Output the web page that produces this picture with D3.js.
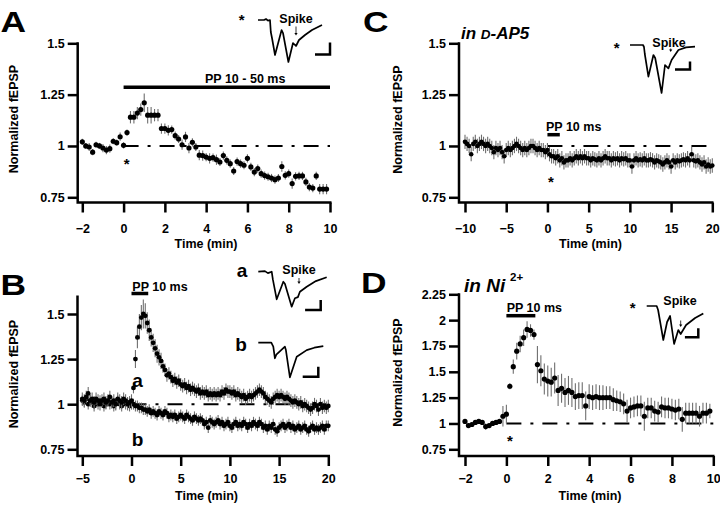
<!DOCTYPE html>
<html><head><meta charset="utf-8">
<script src="https://cdn.jsdelivr.net/npm/d3@7"></script>
<style>
body{margin:0;background:#fff}
svg{display:block}
text{font-family:"Liberation Sans",Arial,Helvetica,sans-serif;font-weight:bold;fill:#000}
</style>
</head><body>
<svg id="c" width="720" height="506"></svg>
<script>
// ---------------- DATA ----------------
const yTicksStd = [0.75, 1, 1.25, 1.5];
const yTickLabelsStd = ["0.75", "1", "1.25", "1.5"];
const yTicksD = [0.75, 1, 1.25, 1.5, 1.75, 2, 2.25];
const yTickLabelsD = ["0.75", "1", "1.25", "1.5", "1.75", "2", "2.25"];
const xTicksA = [-2, 0, 2, 4, 6, 8, 10];
const xTicksB = [-5, 0, 5, 10, 15, 20];
const xTicksC = [-10, -5, 0, 5, 10, 15, 20];
const xTicksD = [-2, 0, 2, 4, 6, 8, 10];

// Panel A: sampled every 10 s from -2 min
const startA = -2, stepA = 1 / 6;
const valuesA = [1.02,1.00,0.995,0.97,1.006,1.00,0.99,0.98,0.987,1.023,1.016,1.045,1.003,
 1.065,1.14,1.14,1.16,1.177,1.21,1.15,1.15,1.15,1.15,1.085,1.085,1.076,1.08,1.05,1.034,1.006,1.044,0.99,1.018,
 0.995,0.955,0.953,0.946,0.94,0.943,0.933,0.922,0.953,0.93,0.914,0.878,0.924,0.914,0.906,0.94,0.898,0.873,0.89,0.865,
 0.856,0.85,0.844,0.836,0.844,0.9,0.857,0.865,0.817,0.852,0.854,0.854,0.825,0.8,0.795,0.854,0.79,0.79,0.79];
const errorsA = [0.015,0.015,0.02,0.015,0.015,0.015,0.02,0.02,0.02,0.015,0.015,0.02,0.015,
 0.015,0.03,0.03,0.03,0.03,0.045,0.04,0.04,0.03,0.03,0.025,0.025,0.025,0.02,0.02,0.02,0.025,0.025,0.025,0.02,
 0.02,0.025,0.025,0.02,0.025,0.02,0.025,0.02,0.02,0.02,0.02,0.02,0.02,0.02,0.02,0.02,0.02,0.02,0.02,0.02,
 0.02,0.02,0.02,0.02,0.02,0.025,0.02,0.02,0.025,0.02,0.02,0.02,0.02,0.02,0.02,0.02,0.025,0.025,0.025];

// Panel B: sampled every 0.2 min from -5 min
const startB = -5, stepB = 0.2;
const valuesBa = [1.03,1.02,1.04,1.06,1.02,1.03,1.01,1.03,1.02,1.00,1.02,1.03,1.01,1.02,1.04,1.01,1.02,1.00,1.03,1.02,1.01,1.03,1.02,1.00,1.01,1.02,
 1.09,1.25,1.37,1.43,1.48,1.50,1.49,1.45,1.41,1.37,
 1.34,1.31,1.28,1.26,1.24,1.21,1.19,1.16,1.17,1.15,
 1.13,1.14,1.12,1.13,1.11,
 1.10,1.11,1.09,1.10,1.08,1.09,1.08,1.07,1.08,1.06,
 1.07,1.06,1.07,1.05,1.06,1.05,1.06,1.05,1.06,1.05,
 1.07,1.06,1.08,1.07,1.07,1.06,1.07,1.05,1.06,1.05,
 1.04,1.05,1.03,1.04,1.05,1.04,1.05,1.06,1.07,1.08,
 1.07,1.06,1.04,1.03,1.02,1.01,1.03,1.04,1.05,1.04,
 1.05,1.04,1.03,1.04,1.03,1.02,1.01,1.02,1.01,1.00,
 1.01,0.99,1.00,0.99,0.98,0.97,0.98,1.00,0.99,0.97,
 1.00,0.98,0.99,0.98,0.99];
const valuesBb = [1.02,1.01,1.03,1.00,1.02,1.01,0.99,1.01,1.00,1.02,1.01,0.99,1.00,1.02,1.00,1.01,0.99,1.00,1.02,1.00,0.99,1.01,1.00,1.01,0.99,1.00,
 1.00,0.99,0.99,0.98,0.98,0.97,0.97,0.96,0.97,0.95,
 0.96,0.95,0.94,0.96,0.95,0.94,0.96,0.95,0.93,0.94,
 0.93,0.94,0.92,0.93,0.94,
 0.93,0.92,0.94,0.93,0.92,0.91,0.93,0.92,0.91,0.92,
 0.91,0.89,0.90,0.87,0.91,0.90,0.89,0.90,0.91,0.89,
 0.90,0.88,0.89,0.90,0.88,0.87,0.89,0.90,0.88,0.89,
 0.88,0.90,0.89,0.87,0.89,0.88,0.90,0.89,0.88,0.90,
 0.89,0.87,0.88,0.86,0.88,0.87,0.89,0.86,0.85,0.87,
 0.88,0.89,0.87,0.88,0.89,0.87,0.88,0.86,0.87,0.88,
 0.86,0.87,0.88,0.86,0.85,0.87,0.88,0.86,0.87,0.86,
 0.87,0.88,0.86,0.88,0.88];
const errorBa = 0.035;
const errorBaPeak = [0.03,0.05,0.06,0.07,0.07,0.08,0.07,0.06,0.06,0.05,0.05,0.05,0.05,0.045,0.045]; // from t=0.2 min
const errorBb = 0.03;

// Panel C: sampled every 0.25 min from -10 min
const startC = -10, stepC = 0.25;
const valuesC = [1.02,1.01,1.00,0.96,1.01,1.02,1.00,1.01,1.02,1.01,
 1.00,1.01,1.00,0.99,0.97,0.99,0.98,0.99,0.97,0.95,
 0.98,0.99,0.98,0.99,1.00,1.01,1.00,0.99,0.98,0.99,
 0.98,0.99,1.00,1.00,0.99,0.98,0.99,0.98,0.98,0.97,
 0.98,0.96,0.95,0.95,0.94,0.95,0.93,0.94,0.92,0.93,
 0.93,0.94,0.93,0.94,0.95,0.94,0.95,0.94,0.95,0.94,
 0.94,0.93,0.94,0.935,0.93,0.94,0.93,0.94,0.95,0.94,
 0.94,0.93,0.94,0.935,0.94,0.93,0.94,0.935,0.94,0.93,
 0.93,0.90,0.93,0.94,0.93,0.935,0.93,0.94,0.93,0.93,
 0.935,0.93,0.92,0.93,0.925,0.92,0.91,0.92,0.93,0.92,
 0.90,0.93,0.92,0.93,0.925,0.93,0.935,0.93,0.94,0.93,
 0.96,0.93,0.925,0.93,0.92,0.91,0.92,0.90,0.91,0.90,
 0.905];
const errorC = 0.035;

// Panel D: sampled every 10 s from -2 min
const startD = -2, stepD = 1 / 6;
const valuesD = [1.02,0.98,0.99,1.01,1.02,1.01,0.97,0.98,1.00,1.01,1.02,1.07,1.09,
 1.36,1.55,1.70,1.77,1.83,1.91,1.90,1.86,1.57,1.51,
 1.43,1.41,1.40,1.44,1.32,1.34,1.30,1.32,1.30,1.26,
 1.27,1.27,1.17,1.26,1.25,1.26,1.25,1.25,1.25,1.25,
 1.23,1.22,1.21,1.19,1.12,1.15,1.16,1.17,1.17,1.07,
 1.15,1.15,1.12,1.11,1.16,1.15,1.15,1.14,1.13,1.14,
 1.04,1.10,1.10,1.10,1.10,1.07,1.10,1.10,1.12];
const errorsD = [0.02,0.02,0.02,0.02,0.02,0.02,0.03,0.02,0.02,0.02,0.02,0.1,0.09,
 0.03,0.07,0.08,0.08,0.08,0.08,0.06,0.05,0.18,0.15,
 0.15,0.15,0.14,0.15,0.15,0.14,0.14,0.14,0.14,0.13,
 0.13,0.13,0.14,0.12,0.12,0.12,0.12,0.12,0.11,0.11,
 0.11,0.1,0.1,0.1,0.11,0.1,0.1,0.1,0.1,0.14,
 0.1,0.1,0.1,0.1,0.1,0.1,0.1,0.1,0.1,0.1,
 0.12,0.1,0.1,0.1,0.1,0.1,0.1,0.1,0.07];

// Pairing periods (min)
const ppA = [0, 10], ppB = [0, 1.7], ppC = [0, 1.5], ppD = [0, 1.4];
const ppTextA = "PP 10 - 50 ms", ppTextOther = "PP 10 ms";

// Inset fEPSP traces [time units, voltage units]
const traceA = [[0,0],[3,0],[4,0.05],[5,-0.03],[6,0],[6.4,-0.6],[7,-0.9],[8.5,-1.75],[11.8,-0.5],[12.5,-0.65],[15.2,-2.1],[17.5,-1.15],[19,-1.3],[20.5,-1.0],[23.5,-0.75],[27,-0.5],[32,-0.25]];
const traceC = [[0,0],[6.5,0],[7,-0.1],[7.4,-0.45],[9.2,-1.58],[11.7,-0.5],[12.6,-0.65],[15.8,-2.4],[17.5,-1.0],[19.2,-1.17],[20.8,-0.75],[24.2,-0.25],[28,-0.12],[32.5,-0.08]];
const traceBa = [[0,0],[3.3,0.03],[4.8,-0.07],[6.7,0],[7.3,-0.4],[9.2,-1.38],[12.5,-0.5],[13.3,-0.6],[16.7,-1.75],[18.3,-1.33],[19.8,-1.27],[20.8,-1.0],[24.2,-0.75],[28.8,-0.47],[34.2,-0.28]];
const traceBb = [[0,0],[6.5,0],[7.5,-0.2],[8.3,-0.78],[9,-0.6],[13.3,-0.2],[13.8,-0.37],[15.8,-1.73],[19.2,-0.7],[24.2,-0.37],[28,-0.25],[32.5,-0.17]];
const traceD = [[0,0],[5,0],[5.7,-0.2],[8.3,-1.7],[10.2,-0.8],[11.7,-0.5],[13.7,-1.9],[15.8,-1.2],[17,-1.4],[19.7,-0.95],[24.2,-0.6],[28.3,-0.37]];
// scale bars [time units, voltage units]
const barA = [7.5, 0.6], barC = [7.5, 0.4], barBa = [7.8, 0.5], barBb = [7.8, 0.5], barD = [6.7, 0.45];

// ---------------- DRAW ----------------
const svg = d3.select("#c");
const AX_W = 2.5;

function mk(start, step, vals, err) {
  return vals.map((v, i) => ({ t: start + i * step, v, e: Array.isArray(err) ? err[i] : err }));
}

function panel(L, yTicks, yLabels, xTicks) {
  const g = svg.append("g");
  const x = d3.scaleLinear().domain(L.xDomain).range(L.xRange);
  const y = d3.scaleLinear().domain(L.yDomain).range(L.yRange);
  const ya = g.append("g").attr("transform", `translate(${L.yAxisX},0)`)
    .call(d3.axisLeft(y).tickValues(yTicks).tickFormat((d, i) => yLabels[i]).tickSize(10).tickPadding(3));
  const xa = g.append("g").attr("transform", `translate(0,${L.xAxisY})`)
    .call(d3.axisBottom(x).tickValues(xTicks).tickFormat(d3.format("d")).tickSize(10).tickPadding(L.xPad));
  [ya, xa].forEach(a => {
    a.select(".domain").remove();
    a.selectAll(".tick line").attr("stroke", "#000").attr("stroke-width", AX_W);
    a.selectAll(".tick text").style("font-size", "12.5px").style("font-family", '"Liberation Sans",Arial,sans-serif').style("font-weight", "bold").attr("fill", "#000");
  });
  g.append("path").attr("d", `M${L.yAxisX},${L.yAxisTop - 1}V${L.xAxisY}H${L.xAxisRight}`)
    .attr("fill", "none").attr("stroke", "#000").attr("stroke-width", AX_W).attr("stroke-linejoin", "miter");
  g.append("text").attr("x", L.titleX[0]).attr("y", L.titleX[1]).attr("text-anchor", "middle")
    .style("font-size", "12.5px").text("Time (min)");
  g.append("text").attr("transform", `translate(${L.titleY[0]},${L.titleY[1]}) rotate(-90)`).attr("text-anchor", "middle")
    .style("font-size", "12.5px").text("Normalized fEPSP");
  g.append("text").attr("transform", `translate(${L.letter[0]},${L.letter[1]}) scale(1.22,1)`)
    .style("font-size", "29px").text(L.name);
  return { g, x, y };
}

function baseline(P, t0, t1) {
  P.g.append("line").attr("x1", P.x(t0)).attr("x2", P.x(t1)).attr("y1", P.y(1)).attr("y2", P.y(1))
    .attr("stroke", "#000").attr("stroke-width", 2).attr("stroke-dasharray", "15,9,3,9");
}

function dots(P, data, r) {
  const gg = P.g.append("g");
  gg.selectAll("line.e").data(data).join("line").attr("class", "e")
    .attr("x1", d => P.x(d.t)).attr("x2", d => P.x(d.t))
    .attr("y1", d => P.y(d.v - d.e)).attr("y2", d => P.y(d.v + d.e))
    .attr("stroke", "#6f6f6f").attr("stroke-width", 1.1);
  gg.selectAll("circle").data(data).join("circle")
    .attr("cx", d => P.x(d.t)).attr("cy", d => P.y(d.v)).attr("r", r).attr("fill", "#000");
}

function ppBar(P, span, yPix, label, tx, ty) {
  P.g.append("line").attr("x1", P.x(span[0])).attr("x2", P.x(span[1])).attr("y1", yPix).attr("y2", yPix)
    .attr("stroke", "#000").attr("stroke-width", 3.5);
  P.g.append("text").attr("x", tx).attr("y", ty).style("font-size", "12.5px").text(label);
}

function txt(x, y, s, size, anchor) {
  return svg.append("text").attr("x", x).attr("y", y).attr("text-anchor", anchor || "start").style("font-size", size + "px").text(s);
}

function inset(trace, bar, o) {
  const xs = d3.scaleLinear().domain([0, 1]).range([o.x, o.x + o.kx]);
  const ys = d3.scaleLinear().domain([0, -1]).range([o.y, o.y + o.ky]);
  svg.append("path").datum(trace).attr("d", d3.line().x(d => xs(d[0])).y(d => ys(d[1])).curve(d3.curveLinear))
    .attr("fill", "none").attr("stroke", "#000").attr("stroke-width", 1.7).attr("stroke-linejoin", "round");
  const bx = o.bar[0], by = o.bar[1];
  svg.append("path").attr("d", `M${bx - (xs(bar[0]) - xs(0))},${by}H${bx}V${by - (ys(-bar[1]) - ys(0))}`)
    .attr("fill", "none").attr("stroke", "#000").attr("stroke-width", 2.5);
  if (o.spike) {
    txt(o.spike[0], o.spike[1], "Spike", 12.5, "middle");
  }
  if (o.arrow) {
    const [ax, ay0, ay1] = o.arrow;
    svg.append("line").attr("x1", ax).attr("x2", ax).attr("y1", ay0).attr("y2", ay1 - 2).attr("stroke", "#000").attr("stroke-width", 0.8);
    svg.append("path").attr("d", `M${ax - 1.6},${ay1 - 2.5}L${ax + 1.6},${ay1 - 2.5}L${ax},${ay1}Z`).attr("fill", "#000");
  }
}

// ---- Panel A
const A = panel({ name: "A", xDomain: [-2, 10], xRange: [82.3, 330], yDomain: [0.75, 1.5], yRange: [197.3, 43.3],
  yAxisX: 77.7, xAxisY: 202.5, yAxisTop: 43.3, xAxisRight: 331.5, xPad: 12, letter: [0.5, 31.5], titleX: [206, 248], titleY: [18, 119] },
  yTicksStd, yTickLabelsStd, xTicksA);
baseline(A, 0, 10);
dots(A, mk(startA, stepA, valuesA, errorsA), 2.6);
ppBar(A, ppA, 87.3, ppTextA, 205, 83);
txt(126.7, 169, "*", 15, "middle");
txt(241.7, 24.5, "*", 15, "middle");
inset(traceA, barA, { x: 258, y: 20, kx: 2, ky: 20, bar: [330, 54.5], spike: [296, 23.3], arrow: [296, 26.5, 35.5] });

// ---- Panel B
const B = panel({ name: "B", xDomain: [-5, 20], xRange: [82.3, 328.3], yDomain: [0.75, 1.5], yRange: [449.3, 314],
  yAxisX: 77.5, xAxisY: 456, yAxisTop: 296.5, xAxisRight: 330, xPad: 8.5, letter: [0.5, 295], titleX: [206.5, 500], titleY: [18, 374] },
  yTicksStd, yTickLabelsStd, xTicksB);
baseline(B, 0, 20);
const dBa = mk(startB, stepB, valuesBa, errorBa);
dBa.forEach((d, i) => { const k = i - 26; if (k >= 0 && k < errorBaPeak.length) d.e = errorBaPeak[k]; });
dots(B, mk(startB, stepB, valuesBb, errorBb), 2.4);
dots(B, dBa, 2.4);
ppBar(B, ppB, 293.5, ppTextOther, 132.3, 290.5);
txt(137.5, 387, "a", 19, "middle");
txt(137.5, 445.5, "b", 19, "middle");
txt(242, 276.5, "a", 19, "middle");
txt(241, 350.5, "b", 19, "middle");
inset(traceBa, barBa, { x: 258.3, y: 271.7, kx: 2, ky: 20, bar: [320.7, 310], spike: [299, 274.3], arrow: [299, 278, 284] });
inset(traceBb, barBb, { x: 258.3, y: 342.7, kx: 2, ky: 20, bar: [318.3, 376.7] });

// ---- Panel C
const C = panel({ name: "C", xDomain: [-10, 20], xRange: [465, 712.3], yDomain: [0.75, 1.5], yRange: [197.3, 43.3],
  yAxisX: 459, xAxisY: 202.5, yAxisTop: 43.3, xAxisRight: 713.5, xPad: 12, letter: [363, 31.5], titleX: [590.5, 248], titleY: [401.5, 119.5] },
  yTicksStd, yTickLabelsStd, xTicksC);
baseline(C, 0, 20);
dots(C, mk(startC, stepC, valuesC, errorC), 2.3);
ppBar(C, ppC, 134.7, ppTextOther, 546, 130.7);
txt(551, 187, "*", 15, "middle");
txt(616.7, 52.5, "*", 15, "middle");
{
  const t = svg.append("text").attr("x", 461).attr("y", 38.5).style("font-size", "17px").style("font-style", "italic");
  t.append("tspan").text("in ");
  t.append("tspan").style("font-size", "13.5px").text("D");
  t.append("tspan").text("-AP5");
}
inset(traceC, barC, { x: 630, y: 45, kx: 2, ky: 20, bar: [690, 69.5], spike: [669, 46.5], arrow: [670.7, 48.5, 52] });

// ---- Panel D
const D = panel({ name: "D", xDomain: [-2, 10], xRange: [465, 713.3], yDomain: [0.75, 2.25], yRange: [449.3, 294.3],
  yAxisX: 459, xAxisY: 456, yAxisTop: 294.3, xAxisRight: 714.5, xPad: 8.5, letter: [361, 293.3], titleX: [590, 500], titleY: [401.5, 372.5] },
  yTicksD, yTickLabelsD, xTicksD);
baseline(D, 0, 10);
dots(D, mk(startD, stepD, valuesD, errorsD), 2.6);
ppBar(D, ppD, 315.7, ppTextOther, 506.7, 311.5);
txt(510, 445.5, "*", 15, "middle");
txt(632.7, 313, "*", 15, "middle");
{
  svg.append("text").attr("x", 464).attr("y", 292).style("font-size", "19px").style("font-style", "italic").text("in Ni");
  svg.append("text").attr("x", 510).attr("y", 281).style("font-size", "11.5px").text("2+");
}
inset(traceD, barD, { x: 646.7, y: 306, kx: 2, ky: 20, bar: [698.3, 337.3], spike: [680, 305], arrow: [680.7, 320.5, 327] });
</script>
</body></html>
